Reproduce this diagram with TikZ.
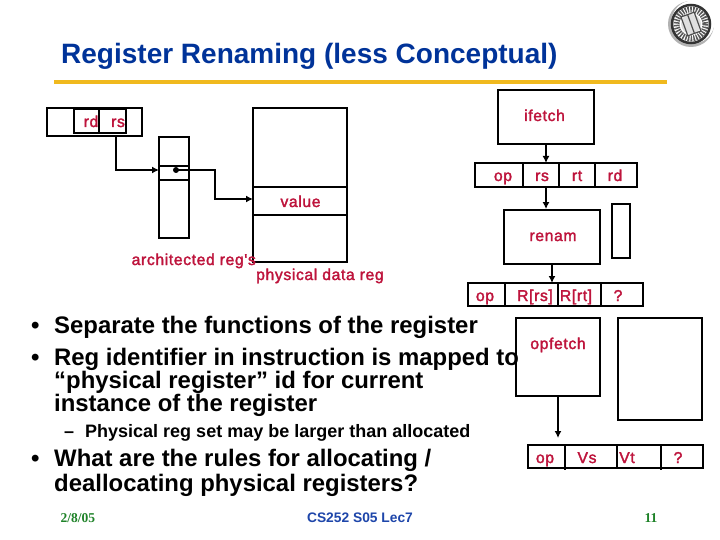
\documentclass[tikz,border=0pt]{standalone}
\usepackage{fontspec}
\setmainfont{Liberation Sans}
\newfontfamily\serifnum{Liberation Serif}
\newfontfamily\lblfont[LetterSpace=4,FakeBold=2]{Liberation Sans}
\usetikzlibrary{arrows.meta}
\definecolor{titleblue}{RGB}{0,51,153}
\definecolor{goldbar}{RGB}{240,185,30}
\definecolor{crim}{RGB}{190,20,60}
\definecolor{footgreen}{RGB}{30,130,40}
\definecolor{footblue}{RGB}{30,70,170}
\tikzset{
  x=1pt,y=-1pt,
  boxln/.style={draw=black,line width=1.8pt,fill=none},
  lnk/.style={draw=black,line width=1.6pt},
  arr/.style={lnk,-{Latex[length=7pt,width=7pt]}},
  lbl/.style={anchor=base,text=crim,font=\lblfont\fontsize{15.7}{17}\selectfont,inner sep=0pt},
  bul/.style={anchor=base west,inner sep=0pt,font=\bfseries\fontsize{23.9}{26}\selectfont},
  sub/.style={anchor=base west,inner sep=0pt,font=\bfseries\fontsize{18}{20}\selectfont},
}
\begin{document}
\begin{tikzpicture}
\useasboundingbox (0,0) rectangle (720,540);
\fill[white] (0,0) rectangle (720,540);
% title
\node[anchor=base west,inner sep=0pt,text=titleblue,font=\bfseries\fontsize{28}{30}\selectfont] (title) at (61,64) {Register Renaming (less Conceptual)};
\fill[goldbar] (54,80) rectangle (667,84);
% logo
\fill[gray!60] (691,24) circle (23);
\fill[white] (693,22) circle (21.5);
\draw[black!80,line width=2.5pt] (691,24) circle (19);
\draw[black!65,line width=6pt,dash pattern=on 1.5pt off 1.2pt] (691,24) circle (14.5);
\fill[gray!25] (691,24) circle (10);
\draw[black!70,line width=1.2pt,rotate around={20:(691,24)}] (684,14) rectangle (698,34) (691,14) -- (691,34);
% left diagram
\draw[boxln] (47,108) rectangle (142,136);
\node[draw=black,line width=1.8pt,minimum width=25pt,minimum height=24pt,inner sep=0pt] (rdb) at (86.5,121) {};
\node[lbl] (rd) at (91,127) {rd};
\node[lbl] (rs) at (118,127) {rs};
\node[draw=black,line width=1.8pt,minimum width=27pt,minimum height=24pt,inner sep=0pt] (rsb) at (112.5,121) {};
\node[draw=black,line width=1.8pt,minimum width=30pt,minimum height=101pt,inner sep=0pt] (arch) at (174,187.5) {};
\coordinate (archin) at (159,170);
\draw[boxln] (159,166) rectangle (189,180);
\fill (176,170) circle (3) coordinate (dot);
\node[draw=black,line width=1.8pt,minimum width=94pt,minimum height=154pt,inner sep=0pt] (phys) at (300,185) {};
\draw[boxln] (253,187) rectangle (347,215);
\coordinate (physin) at (253,199);
\node[lbl] (value) at (300.5,207) {value};
\node[lbl,anchor=base west] (archlbl) at (131.5,265) {architected reg's};
\node[lbl,anchor=base west] (physlbl) at (256,280) {physical data reg};
\coordinate (rsout) at (116,136);
\draw[arr] (rsout) |- (archin);
\draw[arr] (dot) -- (215,170) -- (215,199) -- (physin);
% pipeline
\node[draw=black,line width=1.8pt,minimum width=96pt,minimum height=54pt,inner sep=0pt] (ifetch) at (546,117) {};
\node[lbl] (ifetchl) at (544.5,121) {ifetch};
\draw[boxln] (475,163) rectangle (637,187);
\draw[lnk] (523,163) -- (523,187) (559,163) -- (559,187) (595,163) -- (595,187);
\node[lbl] (op1) at (503,181) {op};
\node[lbl] (rs1) at (542,181) {rs};
\node[lbl] (rt1) at (577,181) {rt};
\node[lbl] (rd1) at (615,181) {rd};
\coordinate (rsin) at (546,163);
\coordinate (rsoutb) at (546,187);
\node[draw=black,line width=1.8pt,minimum width=96pt,minimum height=54pt,inner sep=0pt] (renam) at (552,237) {};
\node[lbl] (renaml) at (553,241) {renam};
\node[draw=black,line width=1.8pt,minimum width=18pt,minimum height=54pt,inner sep=0pt] (small) at (621,231) {};
\draw[arr] (ifetch.south -| rsin) -- (rsin);
\draw[arr] (rsoutb) -- (rsoutb |- renam.north);
\draw[boxln] (468,283) rectangle (643,306);
\draw[lnk] (505,283) -- (505,307) (558,283) -- (558,307) (601,283) -- (601,307);
\coordinate (row2in) at (552,283);
\draw[arr] (renam.south -| row2in) -- (row2in);
\node[lbl] (op2) at (485,301) {op};
\node[lbl] (rrs) at (535,301) {R[rs]};
\node[lbl] (rrt) at (576,301) {R[rt]};
\node[lbl] (q1) at (618,301) {?};
\node[draw=black,line width=1.8pt,minimum width=84pt,minimum height=78pt,inner sep=0pt] (opfetch) at (558,357) {};
\node[lbl] (opfetchl) at (558,349) {opfetch};
\node[draw=black,line width=1.8pt,minimum width=84pt,minimum height=102pt,inner sep=0pt] (right) at (660,369) {};
\draw[boxln] (528,445) rectangle (703,468);
\draw[lnk] (565,445) -- (565,470) (617,445) -- (617,468) (661,445) -- (661,470);
\coordinate (row3in) at (558,438);
\draw[arr] (opfetch.south -| row3in) -- (row3in);
\node[lbl] (op3) at (545,463) {op};
\node[lbl] (vs) at (587,463) {Vs};
\node[lbl] (vt) at (627,463) {Vt};
\node[lbl] (q2) at (678,463) {?};
% text
\node[bul] (b1) at (31,333) {•};
\node[bul] (t1) at (54,333) {Separate the functions of the register};
\node[bul] (b2) at (31,365) {•};
\node[bul] (t2a) at (54,365) {Reg identifier in instruction is mapped to};
\node[bul] (t2b) at (54,388) {“physical register” id for current};
\node[bul] (t2c) at (54,411) {instance of the register};
\node[sub] (d1) at (64,437) {–};
\node[sub] (s1) at (85,437) {Physical reg set may be larger than allocated};
\node[bul] (b3) at (31,466) {•};
\node[bul] (t3a) at (54,466) {What are the rules for allocating /};
\node[bul] (t3b) at (54,491) {deallocating physical registers?};
% footer
\node[anchor=base west,inner sep=0pt,text=footgreen,font=\serifnum\bfseries\fontsize{13.5}{15}\selectfont] (date) at (60.5,522) {2/8/05};
\node[anchor=base,inner sep=0pt,text=footblue,font=\bfseries\fontsize{13.8}{15}\selectfont] (course) at (360,522) {CS252 S05 Lec7};
\node[anchor=base,inner sep=0pt,text=footgreen,font=\serifnum\bfseries\fontsize{13.5}{15}\selectfont] (num) at (651,522) {11};
\end{tikzpicture}
\end{document}
